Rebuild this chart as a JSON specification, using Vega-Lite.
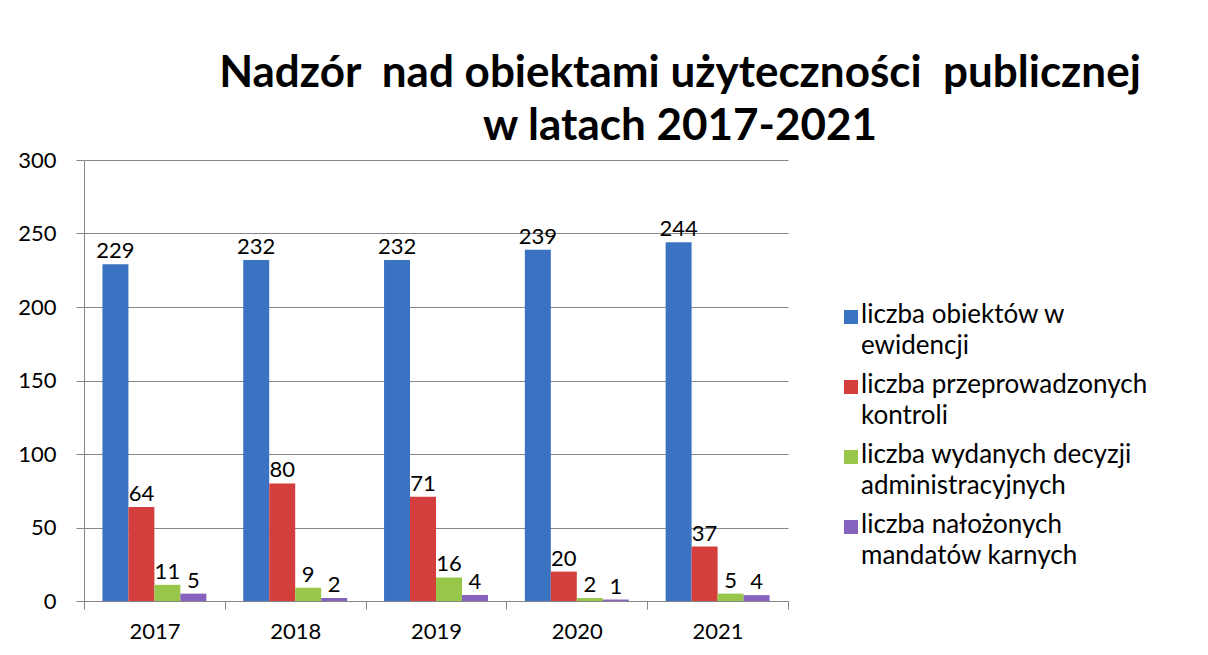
{
  "$schema": "https://vega.github.io/schema/vega-lite/v6.json",
  "autosize": "none",
  "width": 704,
  "height": 441,
  "padding": {"left": 84, "top": 160, "right": 420, "bottom": 54},
  "background": "white",
  "title": {
    "text": ["Nadzór\u00a0 nad obiektami użyteczności\u00a0 publicznej", "w latach 2017-2021"],
    "font": "Lato",
    "fontSize": 44,
    "fontWeight": "bold",
    "color": "black",
    "anchor": "middle",
    "dx": 244,
    "lineHeight": 53,
    "offset": 0
  },
  "data": {
    "values": [
      {"rok": "2017", "seria": "liczba obiektów w ewidencji", "wartosc": 229},
      {"rok": "2017", "seria": "liczba przeprowadzonych kontroli", "wartosc": 64},
      {"rok": "2017", "seria": "liczba wydanych decyzji administracyjnych", "wartosc": 11},
      {"rok": "2017", "seria": "liczba nałożonych mandatów karnych", "wartosc": 5},
      {"rok": "2018", "seria": "liczba obiektów w ewidencji", "wartosc": 232},
      {"rok": "2018", "seria": "liczba przeprowadzonych kontroli", "wartosc": 80},
      {"rok": "2018", "seria": "liczba wydanych decyzji administracyjnych", "wartosc": 9},
      {"rok": "2018", "seria": "liczba nałożonych mandatów karnych", "wartosc": 2},
      {"rok": "2019", "seria": "liczba obiektów w ewidencji", "wartosc": 232},
      {"rok": "2019", "seria": "liczba przeprowadzonych kontroli", "wartosc": 71},
      {"rok": "2019", "seria": "liczba wydanych decyzji administracyjnych", "wartosc": 16},
      {"rok": "2019", "seria": "liczba nałożonych mandatów karnych", "wartosc": 4},
      {"rok": "2020", "seria": "liczba obiektów w ewidencji", "wartosc": 239},
      {"rok": "2020", "seria": "liczba przeprowadzonych kontroli", "wartosc": 20},
      {"rok": "2020", "seria": "liczba wydanych decyzji administracyjnych", "wartosc": 2},
      {"rok": "2020", "seria": "liczba nałożonych mandatów karnych", "wartosc": 1},
      {"rok": "2021", "seria": "liczba obiektów w ewidencji", "wartosc": 244},
      {"rok": "2021", "seria": "liczba przeprowadzonych kontroli", "wartosc": 37},
      {"rok": "2021", "seria": "liczba wydanych decyzji administracyjnych", "wartosc": 5},
      {"rok": "2021", "seria": "liczba nałożonych mandatów karnych", "wartosc": 4}
    ]
  },
  "encoding": {
    "x": {
      "field": "rok", "type": "nominal",
      "scale": {"paddingInner": 0, "paddingOuter": 0},
      "axis": {
        "title": null, "labelAngle": 0, "tickBand": "extent",
        "domainColor": "#868686", "tickColor": "#868686", "tickSize": 8,
        "labelFont": "Lato", "labelFontSize": 22, "labelColor": "black", "labelPadding": 12
      }
    },
    "xOffset": {
      "field": "seria", "type": "nominal",
      "sort": ["liczba obiektów w ewidencji", "liczba przeprowadzonych kontroli", "liczba wydanych decyzji administracyjnych", "liczba nałożonych mandatów karnych"],
      "scale": {"paddingInner": 0, "paddingOuter": 0.71}
    },
    "y": {
      "field": "wartosc", "type": "quantitative",
      "scale": {"domain": [0, 300], "nice": false},
      "axis": {
        "title": null, "values": [0, 50, 100, 150, 200, 250, 300],
        "domainColor": "#868686", "tickColor": "#868686", "tickSize": 8,
        "gridColor": "#868686", "gridOpacity": 1,
        "labelFont": "Lato", "labelFontSize": 22, "labelColor": "black", "labelPadding": 20
      }
    }
  },
  "layer": [
    {
      "mark": {"type": "bar"},
      "encoding": {
        "color": {
          "field": "seria", "type": "nominal",
          "sort": ["liczba obiektów w ewidencji", "liczba przeprowadzonych kontroli", "liczba wydanych decyzji administracyjnych", "liczba nałożonych mandatów karnych"],
          "scale": {"range": ["#3b72c2", "#d43f3d", "#98c64a", "#8562bd"]},
          "legend": {
            "title": null,
            "orient": "none",
            "legendX": 754,
            "legendY": 144,
            "symbolType": "square",
            "symbolSize": 196,
            "symbolStrokeWidth": 0,
            "labelFont": "Lato",
            "labelFontSize": 26,
            "labelColor": "black",
            "labelLimit": 500,
            "labelBaseline": "top",
            "labelOffset": -3,
            "rowPadding": 13,
            "labelExpr": "datum.label == 'liczba obiektów w ewidencji' ? ['liczba obiektów w', 'ewidencji'] : datum.label == 'liczba przeprowadzonych kontroli' ? ['liczba przeprowadzonych', 'kontroli'] : datum.label == 'liczba wydanych decyzji administracyjnych' ? ['liczba wydanych decyzji', 'administracyjnych'] : ['liczba nałożonych', 'mandatów karnych']",
            "encode": {"labels": {"update": {"lineHeight": {"value": 31}, "dy": {"value": -15}}}}
          }
        }
      }
    },
    {
      "mark": {"type": "text", "baseline": "alphabetic", "dy": -6, "font": "Lato", "fontSize": 22, "color": "black"},
      "encoding": {"text": {"field": "wartosc", "type": "quantitative"}}
    }
  ],
  "config": {"view": {"stroke": null}}
}
